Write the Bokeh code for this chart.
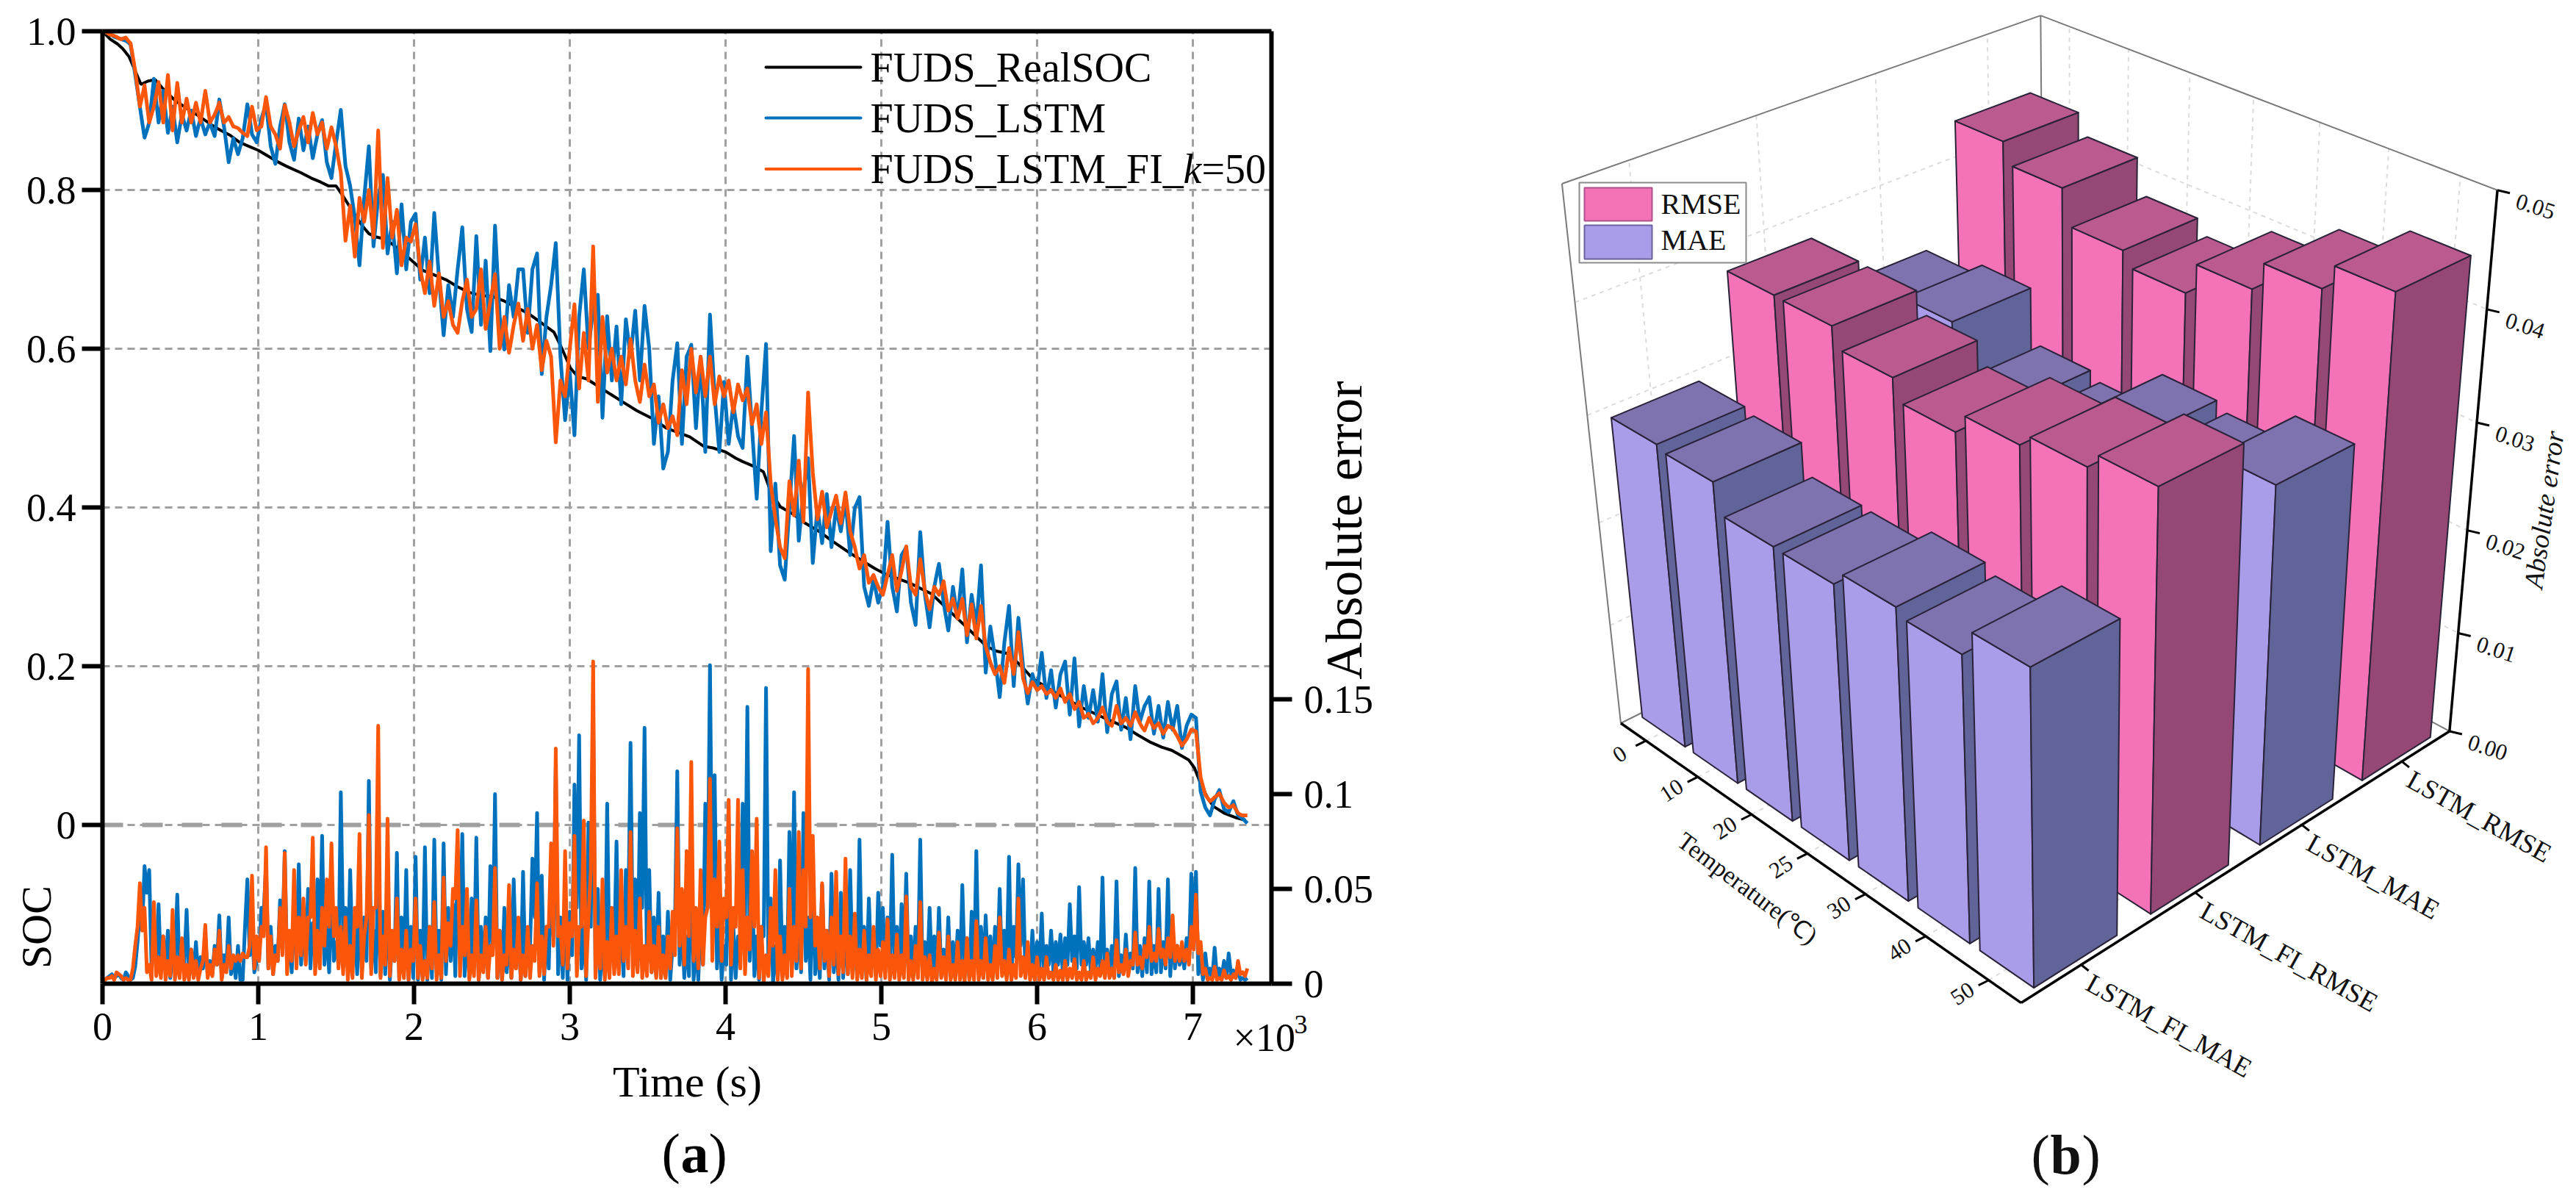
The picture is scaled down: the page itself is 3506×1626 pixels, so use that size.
import math
import numpy as np
from bokeh.plotting import figure
from bokeh.layouts import row
from bokeh.embed import file_html
from bokeh.resources import INLINE
from bokeh.core.properties import value
from bokeh.models import LinearAxis, Range1d, FixedTicker

# ---------- panel (a) data (SOC x1000, absolute error x1000) ----------
real_t = [0,50,96,130,170,210,247,290,337,400,470,548,620,700,760,819,880,940,1000,1060,1120,1180,1271,1340,1400,1452,1500,1542,1600,1663,1710,1753,1820,1904,1980,2054,2130,2205,2280,2355,2430,2500,2580,2657,2730,2800,2898,2950,3003,3050,3108,3180,3259,3340,3430,3530,3620,3700,3770,3861,3919,4000,4066,4108,4180,4243,4290,4351,4430,4513,4600,4676,4780,4892,4960,5027,5180,5324,5500,5676,5740,5811,5900,5973,6130,6297,6430,6568,6650,6730,6800,6865,6920,6973,7010,7054,7100,7135,7200,7280,7338]
real_soc = [1000,990,984,978,968,950,933,937,939,925,912,902,893,882,875,869,860,855,850,843,836,830,822,815,810,805,805,793,775,756,745,741,738,725,712,699,693,687,678,671,667,666,660,652,645,635,621,600,576,565,562,553,543,533,522,512,500,494,489,477,475,470,462,458,452,445,420,401,392,380,370,359,345,331,323,316,305,291,258,225,219,216,200,184,165,147,135,123,113,104,98,94,88,82,72,50,32,23,15,9,6]

# samples every 30 s
soc_lstm = [
 1000,998,995,992,990,988,983,945,905,866,
 885,940,885,925,872,905,860,895,875,900,
 868,890,870,885,868,914,880,835,865,845,
 865,908,870,860,890,908,855,833,880,908,
 860,838,890,850,880,840,870,888,835,815,
 860,901,830,805,765,705,790,855,729,790,
 819,720,760,695,782,700,760,770,687,740,
 670,771,690,617,680,640,700,753,650,621,
 742,630,711,597,755,640,599,680,640,700,
 700,620,700,720,568,640,680,733,590,510,
 570,491,640,700,600,650,668,513,641,560,
 628,530,637,590,648,560,654,600,480,540,
 449,470,560,607,480,590,605,500,590,470,
 643,540,470,558,480,530,490,475,590,500,
 411,520,606,345,430,327,309,400,490,358,
 420,462,330,400,355,417,350,400,370,410,
 340,400,413,300,276,310,280,300,382,300,
 269,340,350,280,252,369,290,249,300,329,
 280,245,300,260,322,230,290,250,327,192,
 250,210,161,230,276,175,261,200,153,190,
 170,217,160,195,148,190,206,139,210,124,
 175,135,170,130,190,117,165,181,120,160,
 108,175,130,150,161,115,150,110,155,120,
 150,97,125,139,135,42,22,12,32,44,
 20,16,30,12,8,2]
# samples half-way between the above
soc_lstm_mid = [
 999,996,993,991,989,986,965,925,885,875,
 912,912,905,898,888,882,878,885,888,884,
 880,880,878,876,890,897,858,850,855,855,
 886,890,865,875,899,882,844,856,894,885,
 849,864,870,865,860,855,880,862,825,838,
 880,865,818,785,735,748,822,792,760,805,
 770,740,728,738,741,730,765,728,714,705,
 720,730,653,648,660,670,726,700,635,680,
 686,670,654,676,697,620,640,660,670,700,
 660,660,710,644,604,660,706,662,550,540,
 530,565,670,650,625,659,590,577,600,594,
 579,583,613,619,604,607,627,540,510,495,
 460,515,583,543,535,597,552,545,530,556,
 591,505,514,519,505,510,482,532,545,455,
 465,563,475,388,378,318,355,445,424,389,
 441,396,365,377,386,383,375,385,390,375,
 370,406,356,288,293,295,290,341,341,285,
 305,345,315,266,310,330,270,275,315,305,
 262,272,280,291,276,260,270,288,260,221,
 230,185,195,253,225,218,230,176,171,180,
 193,188,177,171,169,198,172,174,167,150,
 155,152,150,160,153,141,173,150,140,134,
 141,152,140,155,138,132,130,132,137,135,
 123,111,132,137,88,32,17,22,38,32,
 18,23,21,10,5]

soc_fi = [
 1000,998,995,993,990,992,985,950,905,932,
 885,905,936,885,945,875,935,885,915,885,
 910,885,925,885,895,910,885,892,880,878,
 872,868,905,875,880,917,880,870,852,907,
 885,855,875,892,860,897,870,885,852,879,
 855,822,736,780,716,790,760,800,740,875,
 727,815,740,775,705,740,735,757,700,670,
 710,654,695,640,660,630,620,660,687,640,
 650,700,625,660,694,600,640,595,630,657,
 610,650,600,630,573,610,590,482,560,540,
 600,656,550,620,560,729,533,640,570,600,
 560,590,555,612,560,533,580,540,555,507,
 530,500,515,491,573,530,600,545,590,540,
 590,530,565,540,560,520,555,535,550,505,
 530,480,520,430,386,350,336,433,390,459,
 382,545,444,385,420,375,395,415,380,419,
 370,350,323,340,305,315,300,290,315,340,
 295,320,351,300,290,335,295,272,300,290,
 307,270,285,260,285,239,278,235,276,225,
 205,190,200,179,223,190,243,185,166,180,
 170,175,165,170,160,172,155,165,146,155,
 135,140,128,135,148,130,125,150,128,135,
 125,142,128,119,135,122,128,115,125,122,
 112,100,108,120,118,60,38,30,35,40,
 28,22,25,15,12,12]
soc_fi_mid = [
 999,996,994,991,991,988,968,928,918,908,
 895,920,910,915,910,905,910,900,900,897,
 897,905,905,890,902,897,888,886,879,875,
 870,886,890,878,898,898,875,861,880,896,
 870,865,883,876,878,883,877,868,865,867,
 838,779,758,748,753,775,780,770,807,801,
 771,777,757,740,722,737,746,728,685,690,
 682,674,667,650,645,625,640,673,663,645,
 675,662,642,677,647,620,617,612,643,633,
 630,625,615,601,591,600,536,521,550,570,
 628,603,585,590,644,631,586,605,585,580,
 575,572,583,586,546,556,560,547,531,518,
 515,507,503,532,551,565,572,567,565,565,
 560,547,552,550,540,537,545,542,527,517,
 505,500,475,408,368,343,384,411,424,420,
 463,494,415,402,397,385,405,397,399,395,
 360,336,331,322,310,307,295,302,327,317,
 307,335,325,295,312,315,283,286,295,298,
 288,277,272,272,262,258,256,255,250,215,
 197,195,189,201,206,216,214,175,173,175,
 172,170,167,165,166,163,160,155,150,145,
 137,134,131,141,139,127,137,139,131,130,
 133,135,123,127,128,125,121,120,123,117,
 106,104,114,119,89,49,34,32,37,34,
 25,23,20,13,12]

err_lstm = [
 0,3,5,4,3,6,2,9,38,62,
 60,22,42,25,28,15,47,20,39,18,
 22,14,26,12,20,36,15,35,14,20,
 2,55,28,12,40,63,30,20,44,70,
 25,38,63,35,50,32,55,78,30,58,
 22,101,40,60,30,42,35,107,28,60,
 38,50,25,69,35,60,30,67,28,72,
 30,76,28,74,40,42,71,79,30,45,
 77,30,35,62,100,28,40,28,55,30,
 59,25,66,90,57,30,60,114,35,48,
 38,105,131,30,85,145,50,25,95,40,
 75,32,60,127,55,90,135,60,35,48,
 25,38,20,112,35,25,70,22,35,95,
 168,110,35,20,85,30,25,95,146,60,
 25,30,156,45,20,65,30,80,101,35,
 90,35,62,22,52,28,58,25,48,30,
 60,25,76,30,45,28,48,40,35,68,
 30,42,58,25,30,76,22,40,25,40,
 18,35,22,28,52,24,38,70,30,36,
 25,30,50,28,67,30,63,55,20,28,
 22,37,20,28,22,26,24,42,25,51,
 22,24,18,22,56,18,20,54,15,26,
 16,61,20,24,54,20,50,22,55,28,
 20,18,24,58,59,14,16,8,19,8,
 12,16,7,8,3,3]
err_lstm_mid = [
 2,4,3,5,2,4,3,22,30,48,
 8,12,6,8,3,12,5,10,6,4,
 3,8,4,5,10,3,8,5,3,2,
 30,15,6,12,38,8,5,12,22,10,
 6,15,10,12,8,14,20,10,6,12,
 10,25,8,14,5,6,12,8,6,4,
 5,2,12,3,6,2,3,2,4,2,
 3,6,2,5,12,4,22,4,3,8,
 2,8,3,20,3,2,6,3,10,2,
 4,20,35,6,2,8,25,5,3,2,
 15,40,8,2,30,4,2,4,8,15,
 8,4,30,15,8,40,12,6,4,3,
 4,2,30,10,3,4,2,2,10,40,
 40,8,2,10,2,3,15,30,12,4,
 2,25,10,0,3,5,4,20,8,6,
 12,2,5,3,8,2,6,2,3,5,
 8,3,10,2,10,4,20,6,10,5,
 4,12,3,6,8,3,4,5,3,4,
 3,4,6,3,8,3,6,5,3,6,
 4,8,6,10,2,14,20,4,6,3,
 8,3,10,6,10,6,10,12,8,10,
 10,6,8,8,4,6,8,4,6,5,
 8,6,4,6,5,6,6,8,4,8,
 10,8,14,30,5,2,4,3,3,3,
 3,5,3,2,2]

err_fi = [
 0,3,4,6,4,3,2,20,53,40,
 10,43,14,25,12,39,14,24,10,18,
 12,8,31,10,18,28,10,20,15,15,
 16,14,57,25,30,72,25,15,40,69,
 28,60,35,45,35,77,28,40,55,74,
 40,30,35,20,40,79,25,89,40,136,
 25,87,28,45,18,28,18,45,20,12,
 30,43,15,56,32,50,81,30,50,15,
 44,15,30,20,61,28,15,52,18,35,
 15,30,20,53,25,30,74,124,30,70,
 32,78,30,86,35,170,30,55,22,40,
 25,60,30,80,28,45,20,38,20,30,
 15,25,38,82,50,70,117,40,60,35,
 108,55,75,45,97,40,97,60,35,70,
 87,30,15,40,60,25,15,50,30,80,
 60,166,78,35,53,28,35,59,25,66,
 25,37,18,28,15,30,18,22,34,15,
 26,15,46,12,20,43,14,15,8,27,
 14,25,10,22,12,24,12,33,12,24,
 10,20,35,12,18,10,45,14,22,10,
 14,8,14,6,10,7,12,8,13,6,
 12,6,14,8,12,16,8,23,10,18,
 12,27,14,20,30,16,29,18,24,36,
 20,22,18,30,47,22,8,3,9,3,
 7,4,5,12,6,8]
err_fi_mid = [
 2,3,2,5,2,2,8,30,28,6,
 2,4,3,2,4,2,3,2,2,3,
 2,12,3,4,10,2,6,8,12,12,
 14,20,8,12,25,8,5,12,15,5,
 12,8,15,10,35,5,8,20,30,25,
 8,5,2,3,30,3,35,5,40,3,
 10,4,12,2,3,2,12,3,2,3,
 8,2,3,12,20,45,4,15,2,4,
 2,6,3,15,3,2,10,3,8,2,
 4,3,12,4,5,30,20,25,10,8,
 25,4,30,4,60,3,8,2,3,5,
 5,12,8,4,6,3,4,6,3,3,
 3,8,15,20,10,25,12,8,10,40,
 12,30,12,35,10,30,8,5,18,30,
 3,1,4,20,2,2,3,4,12,8,
 30,35,20,8,12,4,10,5,6,5,
 3,2,3,2,4,2,4,3,2,3,
 2,3,2,2,3,2,2,1,2,3,
 2,2,2,2,1,2,2,2,3,2,
 2,3,4,2,2,3,4,3,2,2,
 2,2,3,2,2,2,2,3,2,2,
 2,3,2,4,3,3,3,6,5,4,
 10,10,8,14,12,12,14,10,14,12,
 12,12,10,18,16,5,2,2,2,2,
 3,2,3,5,4]

x_ticks = [0, 1000, 2000, 3000, 4000, 5000, 6000, 7000]
x_labels = ["0", "1", "2", "3", "4", "5", "6", "7"]
y_ticks = [0.0, 0.2, 0.4, 0.6, 0.8, 1.0]
y_labels = ["0", "0.2", "0.4", "0.6", "0.8", "1.0"]
e_ticks = [0.0, 0.05, 0.1, 0.15]
e_labels = ["0", "0.05", "0.1", "0.15"]
series_names = ["FUDS_RealSOC", "FUDS_LSTM", "FUDS_LSTM_FI_"]

# ---------- panel (b) data ----------
temps = ["0", "10", "20", "25", "30", "40", "50"]
methods = ["LSTM_FI_MAE", "LSTM_FI_RMSE", "LSTM_MAE", "LSTM_RMSE"]
fi_mae = [0.0293, 0.0289, 0.0262, 0.0261, 0.0274, 0.0267, 0.0291]
fi_rmse = [0.0380, 0.0379, 0.0361, 0.0342, 0.0360, 0.0371, 0.0385]
lstm_mae = [0.0327, 0.0338, 0.0288, 0.0281, 0.0316, 0.0309, 0.0335]
lstm_rmse = [0.0436, 0.0417, 0.0385, 0.0372, 0.0401, 0.0427, 0.0450]
z_ticks = ["0.00", "0.01", "0.02", "0.03", "0.04", "0.05"]

FONT = "Liberation Serif"
BLUE, ORANGE, GRAY = "#0072BD", "#FC560A", "#A0A0A0"

def weave(a, b):
    out = []
    for i, v in enumerate(a):
        out.append(v / 1000)
        if i < len(b):
            out.append(b[i] / 1000)
    return out

# ================= panel (a) =================
FIG_H = 1618
def dx(px):
    return (px - 139) / 212 * 1000
def dy(py):
    return 1.0 - (py - 42) / 1080
def de(py):
    return (1338 - py) / 129 * 0.05

XEND = dx(1730)
pa = figure(width=1900, height=FIG_H, x_range=Range1d(dx(0), dx(1900)), y_range=Range1d(dy(FIG_H), dy(0)),
            output_backend="svg", toolbar_location=None, min_border=0,
            background_fill_color="white", border_fill_color="white")
pa.extra_y_ranges = {"err": Range1d(de(FIG_H), de(0))}
pa.outline_line_color = None
pa.grid.visible = False

def style_axis(ax, ticks, labels):
    ax.ticker = FixedTicker(ticks=ticks)
    ax.major_label_overrides = dict(zip(ticks, labels))
    ax.axis_line_width = 6
    ax.axis_line_color = "black"
    ax.major_tick_line_width = 6
    ax.major_tick_line_color = "black"
    ax.major_tick_in = 0
    ax.major_tick_out = 28
    ax.minor_tick_line_color = None
    ax.major_label_text_font = FONT
    ax.major_label_text_font_size = "54px"
    ax.major_label_text_color = "black"

xa, ya = pa.xaxis[0], pa.yaxis[0]
style_axis(xa, x_ticks, x_labels)
style_axis(ya, y_ticks, y_labels)
xa.fixed_location = -0.2
xa.bounds = (0, XEND)
xa.major_label_standoff = 12
ya.fixed_location = 0
ya.bounds = (-0.2, 1.0)
ya.major_label_standoff = 8

rax = LinearAxis(y_range_name="err", fixed_location=XEND, bounds=(0, de(42)))
style_axis(rax, e_ticks, e_labels)
rax.major_label_standoff = 16
pa.add_layout(rax, "right")
tax = LinearAxis(fixed_location=1.0, bounds=(0, XEND))
style_axis(tax, [], [])
pa.add_layout(tax, "above")

gx_ = [[t, t] for t in x_ticks[1:]] + [[0, XEND] for t in y_ticks[:-1]]
gy_ = [[-0.2, 1.0] for t in x_ticks[1:]] + [[t, t] for t in y_ticks[:-1]]
pa.multi_line(gx_, gy_, line_color=GRAY, line_width=3, line_dash="10 7")

soc_l = weave(soc_lstm, soc_lstm_mid)
soc_f = weave(soc_fi, soc_fi_mid)
err_l = weave(err_lstm, err_lstm_mid)
err_f = weave(err_fi, err_fi_mid)
time = [15 * i for i in range(len(soc_l))]
pa.line([0, time[-1]], [0, 0], line_color=GRAY, line_width=6, line_dash="28 26")
pa.line(time, err_l, y_range_name="err", line_color=BLUE, line_width=5, line_join="round")
pa.line(time, err_f, y_range_name="err", line_color=ORANGE, line_width=5, line_join="round")
pa.line(real_t, [v / 1000 for v in real_soc], line_color="black", line_width=4)
pa.line(time, soc_l, line_color=BLUE, line_width=5, line_join="round")
pa.line(time, soc_f, line_color=ORANGE, line_width=5, line_join="round")

def atext(px, py, text, size, align="left", angle=0.0, style="normal"):
    pa.text([dx(px)], [dy(py)], text=[text], text_font=value(FONT), text_font_size=f"{size}px",
            text_align=align, text_baseline="middle", angle=angle, text_font_style=style, text_color="black")

for py, col, name in zip((91, 160, 229.5), ("black", BLUE, ORANGE), series_names):
    pa.line([dx(1042), dx(1171)], [dy(py), dy(py)], line_color=col, line_width=4, line_cap="round")
    atext(1184, py, name, 56)
atext(1610, 229.5, "k", 56, style="italic")
atext(1635, 229.5, "=50", 56)

atext(935, 1471, "Time (s)", 60, align="center")
atext(49, 1261, "SOC", 58, align="center", angle=math.pi / 2)
atext(1829, 721, "Absolute error", 70, align="center", angle=math.pi / 2)
atext(1678, 1411, "\u00d710", 54)
atext(1761, 1393, "3", 36)
atext(900, 1568, "(", 76)
atext(926, 1568, "a", 76, style="bold")
atext(964, 1568, ")", 76)

# ================= panel (b) =================
pb = figure(width=1598, height=FIG_H, x_range=Range1d(1900, 3498), y_range=Range1d(FIG_H, 0),
            output_backend="svg", toolbar_location=None, min_border=0,
            background_fill_color="white", border_fill_color="white")
pb.axis.visible = False
pb.grid.visible = False
pb.outline_line_color = None

# camera calibration of the 3D box: box coordinates (u, v, z) -> page pixels
box3d = [(0,0,0), (1,0,0), (1,1,0), (0,1,0), (0,0,1), (1,1,1), (0,1,1)]
box2d = [(2202.5,976.5), (2751.4,1369), (3332,988.6), (2785,705), (2127.6,252.5), (3399,260), (2774.5,16.5)]
rows = []
for (X, Y, Z), (a, b) in zip(box3d, box2d):
    rows.append([X, Y, Z, 1, 0, 0, 0, 0, -a*X, -a*Y, -a*Z, -a])
    rows.append([0, 0, 0, 0, X, Y, Z, 1, -b*X, -b*Y, -b*Z, -b])
PM = np.linalg.svd(np.array(rows, float))[2][-1].reshape(3, 4)

def proj(u, v, z):
    h = PM @ np.array([u, v, z, 1.0])
    return float(h[0] / h[2]), float(h[1] / h[2])

def seg(a, b):
    p, q = proj(*a), proj(*b)
    return [p[0], q[0]], [p[1], q[1]]

n_t, n_m = len(temps), len(methods)
uc = [(i + .5) / n_t for i in range(n_t)]
vc = [(j + .5) / n_m for j in range(n_m)]
zc = [k / (len(z_ticks) - 1) for k in range(len(z_ticks))]

gx, gy = [], []
for u in uc:
    s = seg((u,1,0), (u,1,1)); gx.append(s[0]); gy.append(s[1])
    s = seg((u,0,0), (u,1,0)); gx.append(s[0]); gy.append(s[1])
for v in vc:
    s = seg((0,v,0), (0,v,1)); gx.append(s[0]); gy.append(s[1])
    s = seg((0,v,0), (1,v,0)); gx.append(s[0]); gy.append(s[1])
for z in zc[1:-1]:
    s = seg((0,0,z), (0,1,z)); gx.append(s[0]); gy.append(s[1])
    s = seg((0,1,z), (1,1,z)); gx.append(s[0]); gy.append(s[1])
pb.multi_line(gx, gy, line_color="#dcdcdc", line_width=2, line_dash="6 6")

ox, oy = [], []
for a, b in (((0,0,0),(0,0,1)), ((0,0,1),(0,1,1)), ((0,1,1),(1,1,1)), ((0,1,1),(0,1,0)),
             ((0,0,0),(0,1,0)), ((1,1,0),(0,1,0))):
    s = seg(a, b); ox.append(s[0]); oy.append(s[1])
pb.multi_line(ox, oy, line_color="#7a7a7a", line_width=2)

PAL = {"pink": ("#F472B8", "#964874", "#BA5A8E"), "purple": ("#A99CE8", "#616498", "#7F73AF")}
rows_b = [(0, fi_mae, "purple"), (1, fi_rmse, "pink"), (2, lstm_mae, "purple"), (3, lstm_rmse, "pink")]
hu, hv = 0.060, 0.088
xs, ys, fc = [], [], []
for j, vals, pal in sorted(rows_b, key=lambda r: -r[0]):
    for i, val in enumerate(vals):
        z = val / 0.05
        u0, u1, v0, v1 = uc[i] - hu, uc[i] + hu, vc[j] - hv, vc[j] + hv
        faces = [
            [(u0,v0,0), (u1,v0,0), (u1,v0,z), (u0,v0,z)],
            [(u1,v0,0), (u1,v1,0), (u1,v1,z), (u1,v0,z)],
            [(u0,v0,z), (u1,v0,z), (u1,v1,z), (u0,v1,z)],
        ]
        for face, col in zip(faces, PAL[pal]):
            pts = [proj(*q) for q in face]
            xs.append([q[0] for q in pts])
            ys.append([q[1] for q in pts])
            fc.append(col)
pb.patches(xs, ys, fill_color=fc, line_color="#2A2238", line_width=2, line_join="round")

ax_x, ax_y = [], []
for a, b in (((0,0,0),(1,0,0)), ((1,0,0),(1,1,0)), ((1,1,0),(1,1,1))):
    s = seg(a, b); ax_x.append(s[0]); ax_y.append(s[1])
pb.multi_line(ax_x, ax_y, line_color="black", line_width=3.5)

def btext(xv, yv, txt, size, angle, align="center", style="normal"):
    pb.text(xv, yv, text=txt, text_font=value(FONT), text_font_size=f"{size}px", angle=math.radians(angle),
            text_align=align, text_baseline="middle", text_font_style=style, text_color="#111111")

tx, ty = [], []
lx, ly = [], []
for u in uc:
    p = proj(u, 0, 0)
    tx.append([p[0], p[0] - 14]); ty.append([p[1], p[1] + 7])
    lx.append(p[0] - 36); ly.append(p[1] + 18)
btext(lx, ly, temps, 31, 33)
lx, ly = [], []
for v in vc:
    p = proj(1, v, 0)
    tx.append([p[0], p[0] + 10]); ty.append([p[1], p[1] + 8])
    lx.append(p[0] + 10); ly.append(p[1] + 22)
btext(lx, ly, methods, 37, -29, align="left")
lx, ly = [], []
for z in zc:
    p = proj(1, 1, z)
    tx.append([p[0], p[0] + 17]); ty.append([p[1], p[1] + 4])
    lx.append(p[0] + 52); ly.append(p[1] + 22)
btext(lx, ly, z_ticks, 31, -18)
pb.multi_line(tx, ty, line_color="black", line_width=3)

btext([2378], [1208], ["Temperature(\u2103)"], 34, -37)
btext([3462], [693], ["Absolute error"], 37, 82, style="italic")

pb.quad(left=[2149], right=[2376], top=[248], bottom=[357], fill_color="white", line_color="#8a8a8a", line_width=2)
pb.quad(left=[2156, 2156], right=[2248, 2248], top=[255, 306], bottom=[300, 352],
        fill_color=[PAL["pink"][0], PAL["purple"][0]], line_color=["#B0508A", "#6A62A0"], line_width=2)
btext([2260, 2260], [277, 326], ["RMSE", "MAE"], 40, 0, align="left")

btext([2764], [1570], ["("], 76, 0, align="left")
btext([2790], [1570], ["b"], 76, 0, align="left", style="bold")
btext([2833], [1570], [")"], 76, 0, align="left")

open("out.html", "w").write(file_html(row(pa, pb), INLINE))
